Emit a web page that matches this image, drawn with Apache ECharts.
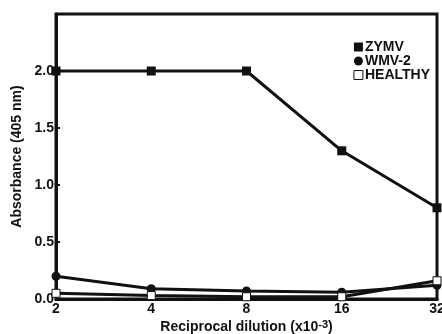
<!DOCTYPE html>
<html>
<head>
<meta charset="utf-8">
<script src="https://cdn.jsdelivr.net/npm/echarts@6/dist/echarts.min.js"></script>
<style>
  html, body { margin: 0; padding: 0; background: #fff; }
  #chart_container { width: 442px; height: 334px; }
</style>
</head>
<body>
<div id="chart_container"></div>
<script>
"use strict";

// values
const dilutions = ['2', '4', '8', '16', '32'];
const zymv = [2.0, 2.0, 2.0, 1.3, 0.8];
const wmv2 = [0.2, 0.09, 0.07, 0.06, 0.12];
const healthy = [0.05, 0.03, 0.02, 0.02, 0.16];

const font = '"Liberation Sans", Arial, sans-serif';

let pageLoaded = () => {
    let chartDom = document.getElementById('chart_container');
    let myChart = echarts.init(chartDom);

    let optEchart = {
        animation: false,
        backgroundColor: '#fff',
        grid: {
            left: 56, right: 5, top: 14, bottom: 35,
            outerBoundsMode: 'none',
            show: true, borderColor: '#111', borderWidth: 3
        },
        legend: {
            orient: 'vertical',
            right: 7, top: 35,
            itemWidth: 9, itemHeight: 9, itemGap: 0,
            textStyle: { fontFamily: font, fontWeight: 'bold', fontSize: 14, lineHeight: 14, color: '#111', padding: [0, 0, 0, -3] },
            data: [
                { name: 'ZYMV', icon: 'rect', itemStyle: { color: '#111' } },
                { name: 'WMV-2', icon: 'circle', itemStyle: { color: '#111' } },
                { name: 'HEALTHY', icon: 'rect', itemStyle: { color: '#fff', borderColor: '#111', borderWidth: 1 } }
            ]
        },
        xAxis: {
            type: 'category',
            data: dilutions,
            boundaryGap: false,
            axisLine: { lineStyle: { color: '#111', width: 3 } },
            axisTick: { show: false },
            axisLabel: { color: '#111', fontFamily: font, fontWeight: 'bold', fontSize: 14, margin: 3 },
            name: 'Reciprocal dilution (x10{s|-3})',
            nameLocation: 'middle',
            nameGap: 20,
            nameMoveOverlap: false,
            nameTextStyle: {
                color: '#111', fontFamily: font, fontWeight: 'bold', fontSize: 14,
                rich: { s: { fontFamily: font, fontWeight: 'bold', fontSize: 11, verticalAlign: 'top', padding: [0, 0, 5, 0], color: '#111' } }
            }
        },
        yAxis: {
            type: 'value',
            min: 0, max: 2.5, interval: 0.5,
            splitLine: { show: false },
            axisLine: { show: true, lineStyle: { color: '#111', width: 3 } },
            axisTick: { show: true, inside: true, length: 4, lineStyle: { color: '#111', width: 2 } },
            axisLabel: {
                color: '#111', fontFamily: font, fontWeight: 'bold', fontSize: 14, margin: 2,
                formatter: (v) => v > 2.01 ? '' : v.toFixed(1)
            },
            name: 'Absorbance (405 nm)',
            nameLocation: 'middle',
            nameGap: 32,
            nameMoveOverlap: false,
            nameTextStyle: { color: '#111', fontFamily: font, fontWeight: 'bold', fontSize: 14 }
        },
        series: [
            {
                name: 'ZYMV', type: 'line', data: zymv,
                symbol: 'rect', symbolSize: 9,
                itemStyle: { color: '#111' },
                lineStyle: { color: '#111', width: 3 }
            },
            {
                name: 'WMV-2', type: 'line', data: wmv2,
                symbol: 'circle', symbolSize: 9,
                itemStyle: { color: '#111' },
                lineStyle: { color: '#111', width: 3 }
            },
            {
                name: 'HEALTHY', type: 'line', data: healthy,
                symbol: 'rect', symbolSize: 8,
                itemStyle: { color: '#fff', borderColor: '#111', borderWidth: 1 },
                lineStyle: { color: '#111', width: 3 }
            }
        ]
    };

    myChart.setOption(optEchart);
};

window.addEventListener('load', pageLoaded, false);
</script>
</body>
</html>
